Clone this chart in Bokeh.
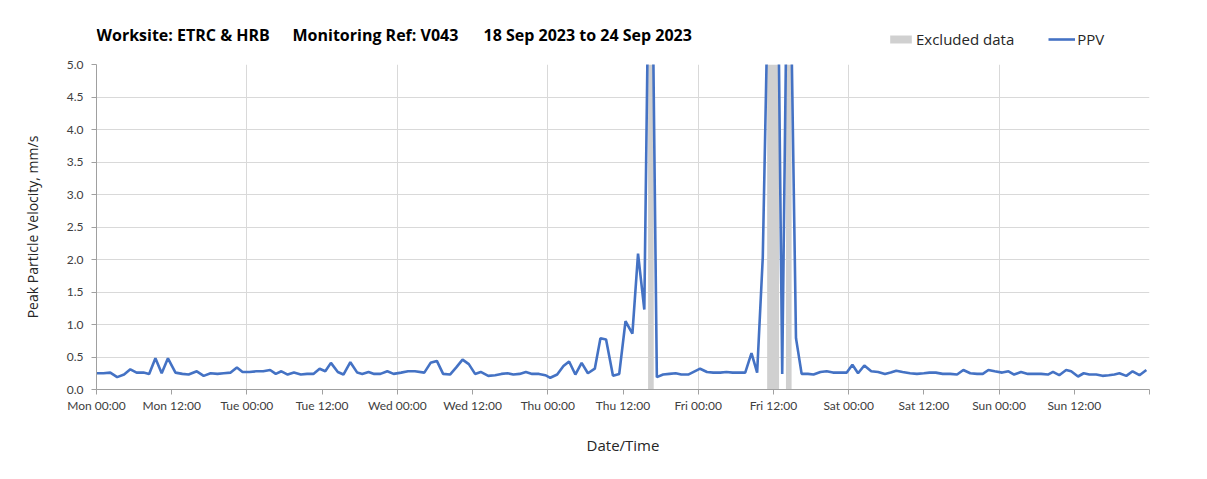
from bokeh.plotting import figure
from bokeh.layouts import column
from bokeh.models import FixedTicker, Label, Legend, LegendItem, ColumnDataSource, Range1d
from bokeh.embed import file_html
from bokeh.resources import INLINE

# Hours since Mon 18 Sep 2023 00:00
hours = [0.0, 1.1, 2.2, 3.3, 4.4, 5.4, 6.4, 7.5, 8.4, 9.4, 10.4, 11.4, 12.6, 13.7, 14.7, 16.0,
         17.1, 18.2, 19.3, 20.3, 21.4, 22.4, 23.3, 24.4, 25.5, 26.6, 27.7, 28.6, 29.5, 30.5,
         31.5, 32.6, 33.6, 34.6, 35.6, 36.5, 37.4, 38.5, 39.4, 40.5, 41.6, 42.4, 43.4, 44.3,
         45.3, 46.4, 47.4, 48.6, 49.7, 50.8, 52.3, 53.3, 54.3, 55.3, 56.4, 57.4, 58.4, 59.4,
         60.4, 61.3, 62.5, 63.6, 64.6, 65.6, 66.5, 67.5, 68.5, 69.5, 70.6, 71.6, 72.4, 73.5,
         74.5, 75.4, 76.4, 77.4, 78.4, 79.5, 80.4, 81.3, 82.4, 83.4, 84.4, 85.5, 86.4, 87.4,
         88.4, 89.4, 90.4, 91.4, 92.4, 93.3, 94.4, 96.3, 97.4, 98.4, 99.5, 100.5, 101.5, 102.5,
         103.5, 104.5, 105.4, 106.3, 107.5, 108.4, 109.4, 110.4, 111.6, 112.5, 113.5, 114.4,
         115.5, 116.5, 117.5, 118.6, 119.7, 120.6, 121.5, 122.5, 123.6, 124.7, 125.8, 126.7,
         127.6, 128.6, 129.8, 130.9, 132.0, 132.9, 133.9, 135.0, 136.2, 137.3, 138.3, 139.4,
         140.5, 141.4, 142.3, 143.3, 144.5, 145.5, 146.4, 147.5, 148.6, 149.6, 150.7, 151.8,
         152.6, 153.6, 154.7, 155.5, 156.6, 157.5, 158.4, 159.5, 160.5, 161.5, 162.4, 163.2,
         164.3, 165.3, 166.4, 167.5]
ppv = [0.25, 0.25, 0.26, 0.19, 0.23, 0.31, 0.26, 0.26, 0.24, 0.48, 0.25, 0.48, 0.26, 0.24, 0.23, 0.28,
       0.21, 0.25, 0.24, 0.25, 0.26, 0.34, 0.27, 0.27, 0.28, 0.28, 0.30, 0.24, 0.28, 0.23,
       0.26, 0.23, 0.24, 0.24, 0.32, 0.28, 0.41, 0.27, 0.23, 0.42, 0.26, 0.24, 0.27, 0.24,
       0.24, 0.28, 0.24, 0.26, 0.28, 0.28, 0.26, 0.41, 0.44, 0.24, 0.23, 0.34, 0.46, 0.39,
       0.24, 0.27, 0.21, 0.22, 0.24, 0.25, 0.23, 0.24, 0.27, 0.24, 0.24, 0.22, 0.18, 0.23,
       0.36, 0.43, 0.23, 0.41, 0.25, 0.32, 0.79, 0.77, 0.21, 0.24, 1.05, 0.86, 2.09, 1.23,
       9.0, 0.19, 0.23, 0.24, 0.25, 0.23, 0.23, 0.32, 0.27, 0.26, 0.26, 0.27, 0.26, 0.26,
       0.26, 0.56, 0.26, 2.03, 8.0, 9.5, 0.24, 8.5, 0.79, 0.24, 0.24, 0.23,
       0.27, 0.28, 0.26, 0.26, 0.26, 0.38, 0.25, 0.37, 0.28, 0.27, 0.24, 0.26,
       0.29, 0.27, 0.25, 0.24, 0.25, 0.26, 0.26, 0.24, 0.24, 0.23, 0.30, 0.25,
       0.24, 0.24, 0.30, 0.28, 0.26, 0.28, 0.23, 0.27, 0.24, 0.24, 0.24, 0.23,
       0.27, 0.22, 0.30, 0.28, 0.20, 0.25, 0.23, 0.23, 0.21, 0.22, 0.23, 0.25,
       0.21, 0.28, 0.22, 0.30]

excl_start = [88.0, 107.0, 110.0]
excl_end = [88.9, 108.9, 110.9]

tick_hours = list(range(0, 169, 12))
tick_labels = ["Mon 00:00", "Mon 12:00", "Tue 00:00", "Tue 12:00", "Wed 00:00", "Wed 12:00",
               "Thu 00:00", "Thu 12:00", "Fri 00:00", "Fri 12:00", "Sat 00:00", "Sat 12:00",
               "Sun 00:00", "Sun 12:00", ""]
grid_hours = list(range(24, 169, 24))
y_ticks = [0.0, 0.5, 1.0, 1.5, 2.0, 2.5, 3.0, 3.5, 4.0, 4.5, 5.0]

title_parts = ["Worksite: ETRC & HRB", "Monitoring Ref: V043", "18 Sep 2023 to 24 Sep 2023"]

LINE_COLOR = "#4472C4"
EXCL_COLOR = "#d0d0d0"
NAN = float("nan")

# ---- header strip (title + legend); its frame is aligned with the chart frame ----
head = figure(width=1207, height=56, output_backend="svg", toolbar_location=None,
              x_range=Range1d(96, 1149), y_range=Range1d(56, 0),
              min_border=0, min_border_left=0, min_border_right=0,
              min_border_top=0, min_border_bottom=0)
head.axis.visible = False
head.grid.visible = False
head.outline_line_color = None

title_x = [96, 292, 483]
for tx, tt in zip(title_x, title_parts):
    head.add_layout(Label(x=tx, y=34, text=tt, text_font="Open Sans", text_font_style="bold",
                          text_font_size="16px", text_color="#000000",
                          text_baseline="alphabetic"))

# legend swatches only (no visible data)
hq = head.quad(left=[NAN], right=[NAN], bottom=[NAN], top=[NAN],
               fill_color=EXCL_COLOR, line_color=None)
hl = head.line(x=[NAN, NAN], y=[NAN, NAN], line_color=LINE_COLOR, line_width=2.6)
legend = Legend(items=[LegendItem(label="Excluded data", renderers=[hq]),
                       LegendItem(label="PPV", renderers=[hl])],
                orientation="horizontal", location=(887 - 96, 7),
                glyph_width=27, glyph_height=10, label_standoff=2, spacing=34,
                padding=0, margin=0, border_line_alpha=0, background_fill_alpha=0,
                label_text_font="Open Sans", label_text_font_size="15px",
                label_text_color="#262626", label_height=18)
head.add_layout(legend, "center")

# ---- main chart ----
p = figure(width=1207, height=423, output_backend="svg", toolbar_location=None,
           x_range=Range1d(0, 168), y_range=Range1d(0, 5),
           min_border_left=96, min_border_right=58, min_border_top=8, min_border_bottom=90)
p.outline_line_color = None
p.background_fill_color = "white"

ex_src = ColumnDataSource(dict(left=excl_start, right=excl_end,
                               bottom=[0] * len(excl_start), top=[5] * len(excl_start)))
q = p.quad(left="left", right="right", bottom="bottom", top="top", source=ex_src,
           fill_color=EXCL_COLOR, line_color=None)
ln = p.line(hours, ppv, line_color=LINE_COLOR, line_width=2.6)

axis_col = "#a0a0a0"
for ax in (p.xaxis[0], p.yaxis[0]):
    ax.axis_line_color = axis_col
    ax.major_tick_line_color = axis_col
    ax.minor_tick_line_color = None
    ax.major_tick_out = 5
    ax.major_tick_in = 0
    ax.major_label_text_font = "Lato"
    ax.major_label_text_font_size = "12px"
    ax.major_label_text_color = "#404040"
    ax.axis_label_text_font = "Open Sans"
    ax.axis_label_text_font_style = "normal"
    ax.axis_label_text_color = "#262626"

p.xaxis.ticker = FixedTicker(ticks=tick_hours)
p.xaxis.major_label_overrides = {h: l for h, l in zip(tick_hours, tick_labels)}
p.xaxis.major_label_standoff = 3
p.xaxis.axis_label = "Date/Time"
p.xaxis.axis_label_text_font_size = "15px"
p.xaxis.axis_label_standoff = 19

p.yaxis.ticker = FixedTicker(ticks=y_ticks)
p.yaxis.major_label_overrides = {t: f"{t:.1f}" for t in y_ticks}
p.yaxis.major_label_standoff = 8
p.yaxis.axis_label = "Peak Particle Velocity, mm/s"
p.yaxis.axis_label_text_font_size = "14px"
p.yaxis.axis_label_standoff = 22

p.xgrid.ticker = FixedTicker(ticks=grid_hours)
p.ygrid.ticker = FixedTicker(ticks=y_ticks)
p.xgrid.grid_line_color = "#d9d9d9"
p.ygrid.grid_line_color = "#d9d9d9"

layout = column(head, p, spacing=0)
open("out.html", "w").write(file_html(layout, INLINE))
